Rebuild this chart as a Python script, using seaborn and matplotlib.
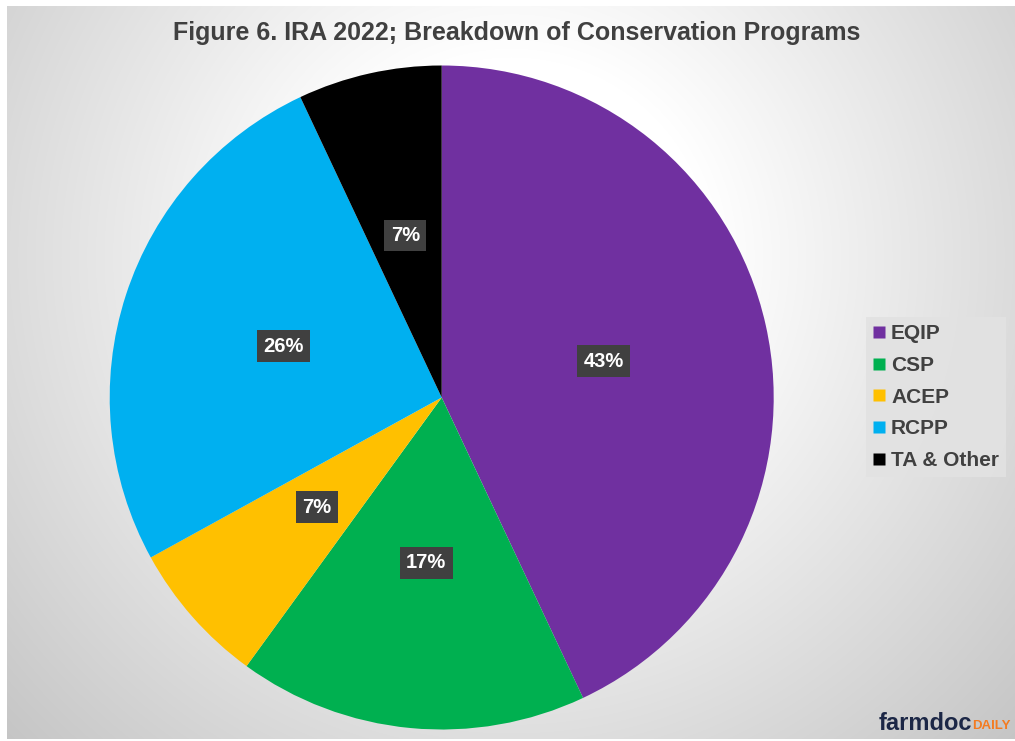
import numpy as np
import matplotlib
matplotlib.use("Agg")
import matplotlib.pyplot as plt
import seaborn as sns
from matplotlib.lines import Line2D

sns.set_theme(style="white")
plt.rcParams["font.family"] = ["Liberation Sans", "DejaVu Sans"]

# Program shares of IRA 2022 conservation funding (percent)
programs = ["EQIP", "CSP", "ACEP", "RCPP", "TA & Other"]
shares = [43, 17, 7, 26, 7]
colors = ["#7030A0", "#00B050", "#FFC000", "#00B0F0", "#000000"]

W, H = 1015, 741
fig = plt.figure(figsize=(W / 100, H / 100), dpi=100)
fig.patch.set_facecolor("white")

# Chart area with a soft radial gray gradient
x0, x1, y0, y1 = 7, 1015, 6, 739
bg = fig.add_axes([x0 / W, 1 - y1 / H, (x1 - x0) / W, (y1 - y0) / H])
yy, xx = np.mgrid[y0:y1, x0:x1]
d = np.hypot(xx - 511, yy - 257)
f = np.clip((d - 200) / 500, 0, 1)
shade = 255 - f * 58
img = np.dstack([shade, shade, shade]) / 255
bg.imshow(img, aspect="auto", extent=[0, 1, 0, 1], interpolation="bilinear")
bg.set_axis_off()

# Pie
cx, cy, r = 441.7, 397.5, 332
ax = fig.add_axes([(cx - r) / W, 1 - (cy + r) / H, 2 * r / W, 2 * r / H])
wedges, texts, autotexts = ax.pie(
    shares,
    colors=colors,
    startangle=90,
    counterclock=False,
    autopct=lambda p: f"{p:.0f}%",
    pctdistance=0.5,
    wedgeprops=dict(linewidth=0),
)
for t in autotexts:
    t.set_color("white")
    t.set_fontweight("bold")
    t.set_fontsize(14.5)
    t.set_bbox(dict(boxstyle="square,pad=0.32", facecolor="#404040", edgecolor="none"))
ax.set_xlim(-1, 1)
ax.set_ylim(-1, 1)
ax.set_axis_off()

# Title
fig.text(517 / W, 1 - 33 / H, "Figure 6. IRA 2022; Breakdown of Conservation Programs",
         ha="center", va="center", fontsize=18, fontweight="bold", color="#404040")

# Legend
handles = [Line2D([], [], marker="s", linestyle="none", markersize=8,
                  markerfacecolor=c, markeredgecolor="none") for c in colors]
leg = fig.legend(handles, programs, loc="upper left",
                 bbox_to_anchor=(866 / W, 1 - 317 / H), borderaxespad=0,
                 frameon=True, fontsize=15, handlelength=0.5, handletextpad=0.35,
                 labelspacing=0.61, borderpad=0.35, fancybox=False)
leg.get_frame().set_facecolor("#e2e2e2")
leg.get_frame().set_edgecolor("none")
leg.get_frame().set_alpha(0.9)
for t in leg.get_texts():
    t.set_color("#404040")
    t.set_fontweight("bold")

# Logo text
fig.text(972 / W, 1 - 724 / H, "farmdoc", ha="right", va="center",
         fontsize=17, fontweight="bold", color="#1c2746")
fig.text(972 / W, 1 - 726 / H, "DAILY", ha="left", va="center",
         fontsize=9.5, fontweight="bold", color="#f47b20")

fig.savefig("out.png", dpi=100)
